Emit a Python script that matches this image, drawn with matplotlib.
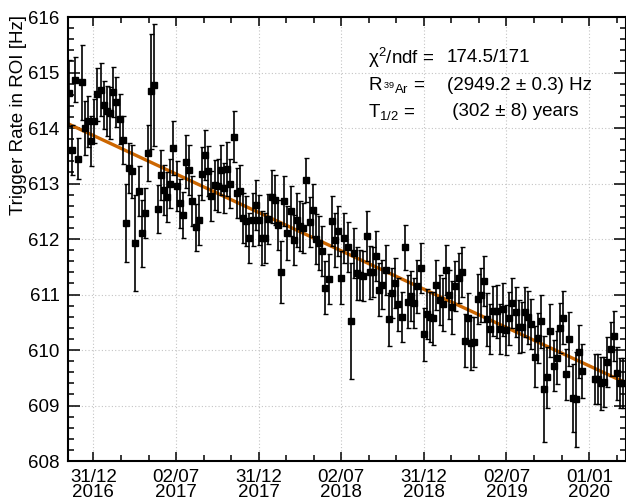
import numpy as np
import pandas as pd
import matplotlib
matplotlib.use("Agg")
import matplotlib.pyplot as plt

plt.rcParams["font.family"] = ["Liberation Sans", "DejaVu Sans"]
plt.rcParams["mathtext.fontset"] = "custom"
plt.rcParams["mathtext.rm"] = "Liberation Sans"
plt.rcParams["mathtext.it"] = "Liberation Sans:italic"

FS = 13.5

# weekly trigger rate in the ROI (Hz), run up to the christmas break
rate_before = [
    614.63, 613.61, 614.87, 613.45, 614.82, 614.00, 614.12, 613.76, 614.13, 614.61,
    614.69, 614.41, 614.31, 614.27, 614.65, 614.46, 614.16, 613.79, 612.29, 613.28,
    613.22, 611.93, 612.87, 612.10, 612.46,
    613.55, 614.66, 614.78, 612.54, 613.15, 612.89, 612.76, 613.00, 613.64, 612.95,
    612.64, 612.43, 613.39, 613.24, 612.68, 612.21, 612.34, 613.18, 613.52, 613.22,
    612.77, 612.98, 612.96, 613.24, 612.92, 613.26,
    613.00, 613.84, 612.83, 612.86, 612.38, 612.32, 612.02, 612.35, 612.62, 612.35,
    612.02, 612.02, 612.36, 612.76, 612.71, 612.26, 611.41, 612.68, 612.11, 612.50,
    611.98, 612.34, 612.23, 612.20, 613.06, 612.30, 612.52,
    612.00, 611.93, 611.78, 611.12, 611.28, 612.32, 611.98, 612.14, 611.30, 612.02,
    611.86, 610.52, 611.75, 611.38, 611.35, 611.33, 612.05, 611.40, 611.41, 611.70,
    611.09, 611.18, 611.45, 610.55, 611.03, 611.20, 610.82, 610.59, 611.85, 610.87,
    610.97, 610.84, 611.15, 611.47, 610.28, 610.65, 610.60, 610.57, 611.17, 610.90,
    610.82, 611.45, 611.00, 610.77, 611.16, 611.29, 611.40, 610.17, 610.58, 610.12,
    610.14, 610.92, 610.99, 611.25, 610.55, 610.38, 610.71, 610.70, 610.38, 610.73,
    610.36, 610.57, 610.85, 610.68, 610.42, 610.42, 610.68, 610.59, 610.46, 609.88,
    610.22, 610.52, 609.30, 609.51, 610.35, 609.72, 609.86, 610.40, 610.58, 609.56,
    610.20, 609.14, 609.11, 609.97, 609.62,
]
err_before = [
    0.60, 0.45, 0.41, 0.37, 0.67, 0.48, 0.46, 0.45, 0.40, 0.48,
    0.48, 0.43, 0.45, 0.46, 0.45, 0.45, 0.45, 0.43, 0.71, 0.45,
    0.48, 0.87, 0.45, 0.60, 0.45,
    0.50, 1.03, 1.10, 0.44, 0.45, 0.45, 0.45, 0.45, 0.48, 0.45,
    0.45, 0.42, 0.48, 0.45, 0.45, 0.42, 0.45, 0.48, 0.45, 0.45,
    0.45, 0.45, 0.48, 0.45, 0.45, 0.48,
    0.45, 0.46, 0.45, 0.48, 0.45, 0.45, 0.45, 0.48, 0.45, 0.45,
    0.48, 0.45, 0.45, 0.48, 0.45, 0.45, 0.56, 0.45, 0.48, 0.45,
    0.45, 0.48, 0.45, 0.45, 0.40, 0.45, 0.48,
    0.45, 0.48, 0.45, 0.48, 0.45, 0.45, 0.48, 0.45, 0.48, 0.45,
    0.45, 1.05, 0.45, 0.48, 0.45, 0.45, 0.45, 0.48, 0.45, 0.45,
    0.48, 0.45, 0.45, 0.48, 0.45, 0.45, 0.48, 0.45, 0.40, 0.48,
    0.45, 0.45, 0.48, 0.45, 0.48, 0.45, 0.45, 0.48, 0.45, 0.45,
    0.48, 0.45, 0.45, 0.48, 0.45, 0.45, 0.45, 0.48, 0.45, 0.48,
    0.45, 0.45, 0.48, 0.45, 0.48, 0.45, 0.45, 0.48, 0.45, 0.48,
    0.45, 0.48, 0.45, 0.45, 0.48, 0.45, 0.45, 0.48, 0.45, 0.55,
    0.45, 0.48, 0.96, 0.55, 0.48, 0.46, 0.48, 0.45, 0.48, 0.46,
    0.48, 0.61, 0.85, 0.48, 0.48,
]
# after the break
rate_after = [609.47, 609.47, 609.40, 609.42, 609.78, 610.02, 610.25, 609.58, 609.41, 609.41]
err_after = [0.45, 0.45, 0.48, 0.45, 0.45, 0.48, 0.45, 0.48, 0.45, 0.45]

dates = pd.date_range("2016-11-07", periods=len(rate_before), freq="7D").append(
    pd.date_range("2020-01-13", periods=len(rate_after), freq="7D"))
rate = np.array(rate_before + rate_after)
err = np.array(err_before + err_after)

# exponential decay fit (+ constant), half-life from the fit box
half_life = 302.0  # years
fit_bkg = 9.0
fit_amp = 605.07

tick_dates = ["2016-12-31", "2017-07-02", "2017-12-31", "2018-07-02",
              "2018-12-31", "2019-07-02", "2020-01-01"]

fig = plt.figure(figsize=(6.26, 5.01), dpi=100)
ax = fig.add_axes([68 / 626, 40 / 501, 557.5 / 626, 444 / 501])

t0 = dates[0]
x_lo = pd.Timestamp("2016-11-05")
x_hi = pd.Timestamp("2020-03-21")
fit_t = pd.date_range(t0, x_hi, freq="1D")
years = (fit_t - t0).days / 365.25
fit_rate = fit_bkg + fit_amp * np.exp(-np.log(2) * years / half_life)

ax.grid(True, which="major", color="#c4c4c4", linestyle=(0, (1, 2)), linewidth=0.8)
ax.set_axisbelow(True)

ax.plot(fit_t, fit_rate, color="#cc6600", linewidth=2.4, zorder=2)
ax.errorbar(dates, rate, yerr=err, fmt="s", color="black", markersize=3.8,
            elinewidth=1.2, capsize=1.8, capthick=1.0, zorder=3)

ax.set_xlim(x_lo, x_hi)
ax.set_ylim(608, 616)

majors = pd.to_datetime(tick_dates)
ax.set_xticks(majors)
ax.set_xticklabels([d.strftime("%d/%m\n%Y") for d in majors], fontsize=FS, linespacing=0.82)
minors = []
for a, b in zip(majors[:-1], majors[1:]):
    minors += [a + (b - a) / 3, a + 2 * (b - a) / 3]
minors.append(majors[-1] + (majors[-1] - majors[-2]) / 3)
ax.set_xticks(minors, minor=True)

ax.set_yticks(np.arange(608, 617, 1))
ax.set_yticks(np.arange(608, 616.01, 0.2), minor=True)
ax.tick_params(axis="y", labelsize=FS)

ax.tick_params(which="both", direction="in", top=True, right=True, width=1.1, colors="black")
ax.tick_params(axis="y", which="major", length=8.6, pad=6)
ax.tick_params(axis="y", which="minor", length=4.3)
ax.tick_params(axis="x", which="major", length=6.7, pad=6)
ax.tick_params(axis="x", which="minor", length=4.1)
for s in ax.spines.values():
    s.set_linewidth(1.5)

fig.text(19 / 626, 1 - 15 / 501, "Trigger Rate in ROI [Hz]", rotation=90,
         ha="center", va="top", fontsize=FS)

# fit results
rows = [
    ("χ$^{2}$/ndf =", "174.5/171", 58),
    (r"R$_{\,{}^{39}\mathrm{Ar}}$ =", "(2949.2 ± 0.3) Hz", 85),
    (r"T$_{1/2}$ =", " (302 ± 8) years", 112),
]
for lab, val, ypx in rows:
    fig.text(368 / 626, 1 - ypx / 501, lab, ha="left", va="center", fontsize=FS)
    fig.text(447 / 626, 1 - ypx / 501, val, ha="left", va="center", fontsize=FS)

fig.savefig("out.png", dpi=100)
